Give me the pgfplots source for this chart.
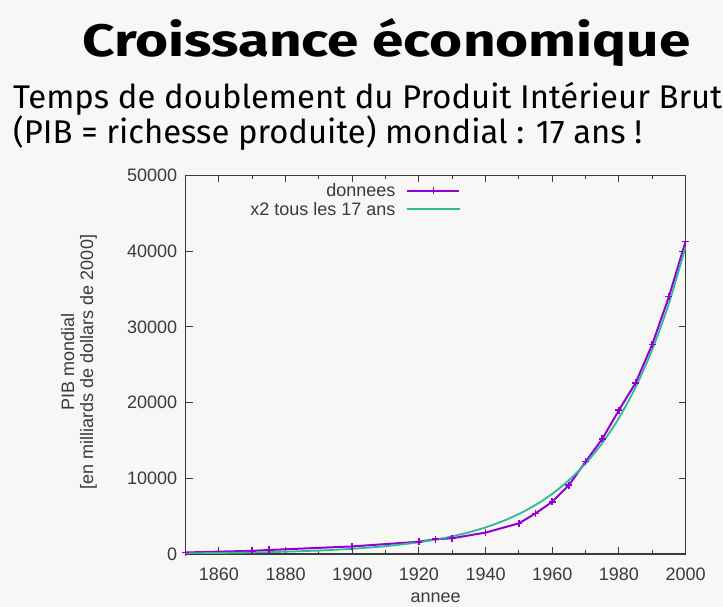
\documentclass[border=0pt]{standalone}
\usepackage{pgfplots}
\pgfplotsset{compat=1.18}
\usepackage{fontspec}
\setmainfont{Liberation Sans}
\newfontfamily\titlefont{Fira Sans}
\definecolor{bg}{HTML}{F7F8F5}
\definecolor{pur}{HTML}{9400D3}
\definecolor{grn}{HTML}{30B898}
\definecolor{axc}{HTML}{3A3A3A}
\newsavebox\lineA
\newsavebox\lineB
\begin{document}
\sbox\lineA{\titlefont\fontsize{30}{36}\selectfont Temps de doublement du Produit Intérieur Brut}%
\sbox\lineB{\titlefont\fontsize{30}{36}\selectfont (PIB = richesse produite) mondial : 17 ans !}%
\pgfmathsetmacro\sc{709/\the\wd\lineA}%
\begin{tikzpicture}[x=1pt,y=1pt]
\useasboundingbox (0,0) rectangle (723,607);
\fill[bg] (0,0) rectangle (723,607);
\node[anchor=base west, inner sep=0] at (82,550) {\resizebox{608pt}{38pt}{\titlefont\bfseries Croissance économique}};
\node[anchor=base west, inner sep=0] at (13,498) {\scalebox{\sc}{\usebox\lineA}};
\node[anchor=base west, inner sep=0] at (13,463) {\scalebox{\sc}{\usebox\lineB}};
\node[rotate=90, align=center, text=axc, font=\fontsize{18}{19}\selectfont] at (79,245) {PIB mondial\\{}[en milliards de dollars de 2000]};
\node[anchor=base, text=axc, font=\fontsize{18}{20}\selectfont] at (435.6,4) {annee};
\begin{axis}[
  at={(185.6pt,53pt)}, anchor=south west,
  scale only axis, width=500pt, height=378.5pt,
  xmin=1850, xmax=2000, ymin=0, ymax=50000,
  xtick={1860,1880,...,2000},
  minor xtick={1850,1870,...,1990},
  ytick={0,10000,...,50000},
  scaled y ticks=false,
  /pgf/number format/assume math mode=true,
  /pgf/number format/set thousands separator={},
  tick label style={font=\fontsize{18}{20}\selectfont, text=axc},
  yticklabel style={xshift=-5pt},
  xticklabel style={yshift=-10pt},
  tick align=inside,
  major tick length=7pt, minor tick length=4pt,
  axis line style={axc, line width=1.2pt},
  every tick/.style={axc, line width=1pt},
  legend style={draw=none, fill=none, at={(0.556,0.99)}, anchor=north east,
    font=\fontsize{18}{18}\selectfont, text=axc, row sep=0pt},
  legend cell align=right,
  legend plot pos=right,
  legend image code/.code={\path (0pt,0pt); \draw[mark repeat=2,mark phase=2,#1] plot coordinates {(9pt,0pt)(35pt,0pt)(61pt,0pt)};},
]
\addplot[pur, line width=2pt, mark=+, mark size=3.5pt, mark options={line width=1.6pt}] coordinates {
(1850,200) (1870,420) (1875,530) (1900,1000) (1920,1620) (1925,1950) (1930,2080)
(1940,2830) (1950,4050) (1955,5370) (1960,6900) (1965,9100) (1970,12200)
(1975,15200) (1980,19000) (1985,22600) (1990,27700) (1995,34000) (2000,41300)};
\addlegendentry{donnees}
\addplot[grn, line width=1.8pt, no marks, smooth] coordinates {
(1850,90) (1855,110) (1860,135) (1865,165) (1870,203) (1875,248) (1880,305)
(1885,374) (1890,458) (1895,562) (1900,689) (1905,844) (1910,1035) (1915,1269)
(1920,1556) (1925,1908) (1930,2340) (1935,2869) (1940,3517) (1945,4313)
(1950,5288) (1955,6483) (1960,7949) (1965,9747) (1970,11950) (1975,14652)
(1980,17965) (1985,22027) (1990,27007) (1995,33113) (2000,40600)};
\addlegendentry{x2 tous les 17 ans}
\end{axis}
\end{tikzpicture}
\end{document}
